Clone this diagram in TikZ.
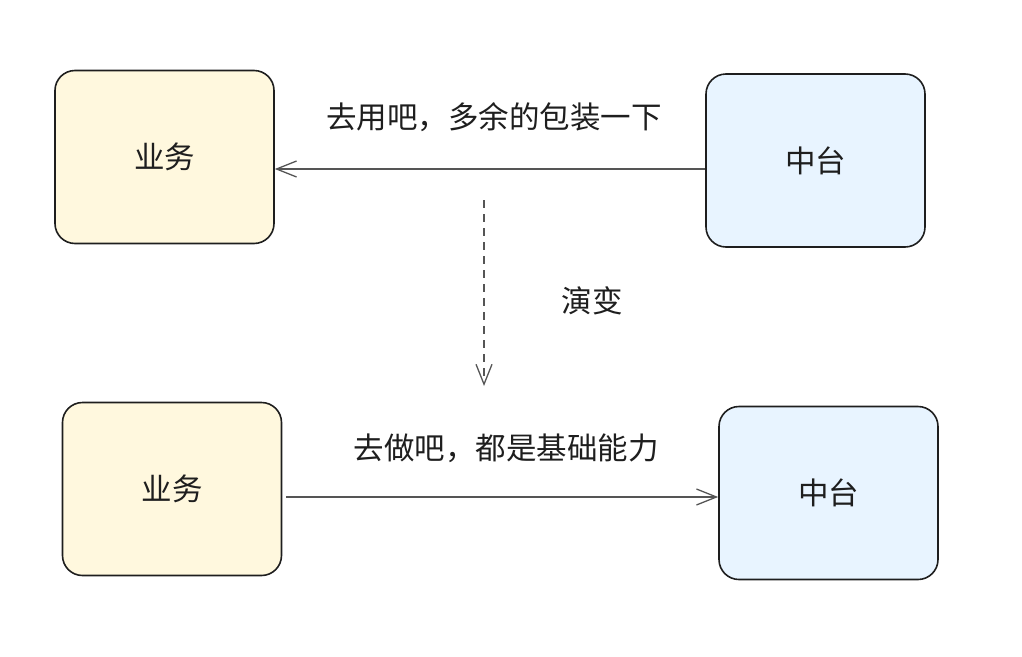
\documentclass[tikz,border=0pt]{standalone}
\usepackage{fontspec}
\newfontfamily\cjk{Noto Sans CJK SC}
\usetikzlibrary{arrows.meta}
\definecolor{yfill}{HTML}{FFF8DE}
\definecolor{bfill}{HTML}{E8F4FF}
\definecolor{ink}{HTML}{1E1E1E}
\definecolor{lineg}{HTML}{555555}
\tikzset{
  box/.style={draw=ink, line width=1.6pt, rounded corners=20pt, minimum width=219pt, minimum height=173pt, inner sep=0pt, font=\cjk\fontsize{30.5}{36}\selectfont, text=ink},
  ybox/.style={box, fill=yfill},
  bbox/.style={box, fill=bfill},
  conn/.style={draw=lineg, line width=1.3pt, -{Straight Barb[length=20pt,width=16pt,line width=1.3pt]}},
  lbl/.style={font=\cjk\fontsize{30.5}{36}\selectfont, text=ink, inner sep=0pt}
}
\begin{document}
\begin{tikzpicture}[x=1pt,y=-1pt]
\useasboundingbox (0,0) rectangle (1022,656);
\node[ybox] (b1) at (164.5,157) {业务};
\node[bbox] (z1) at (815.5,160.5) {中台};
\node[ybox] (b2) at (172,489) {业务};
\node[bbox] (z2) at (828.5,493) {中台};
\draw[conn] (z1.west |- 0,169) -- (b1.east |- 0,169);
\draw[conn] (b2.east |- 0,497) ++(4,0) -- (z2.west |- 0,497);
\coordinate (d1) at (484,200);
\coordinate (d2) at (484,386);
\draw[conn, dash pattern=on 8pt off 6pt] (d1) -- (d2);
\node[lbl] (t1) at (494,117) {去用吧，多余的包装一下};
\node[lbl] (t2) at (506,448) {去做吧，都是基础能力};
\node[lbl] (t3) at (592,301) {演变};
\end{tikzpicture}
\end{document}
